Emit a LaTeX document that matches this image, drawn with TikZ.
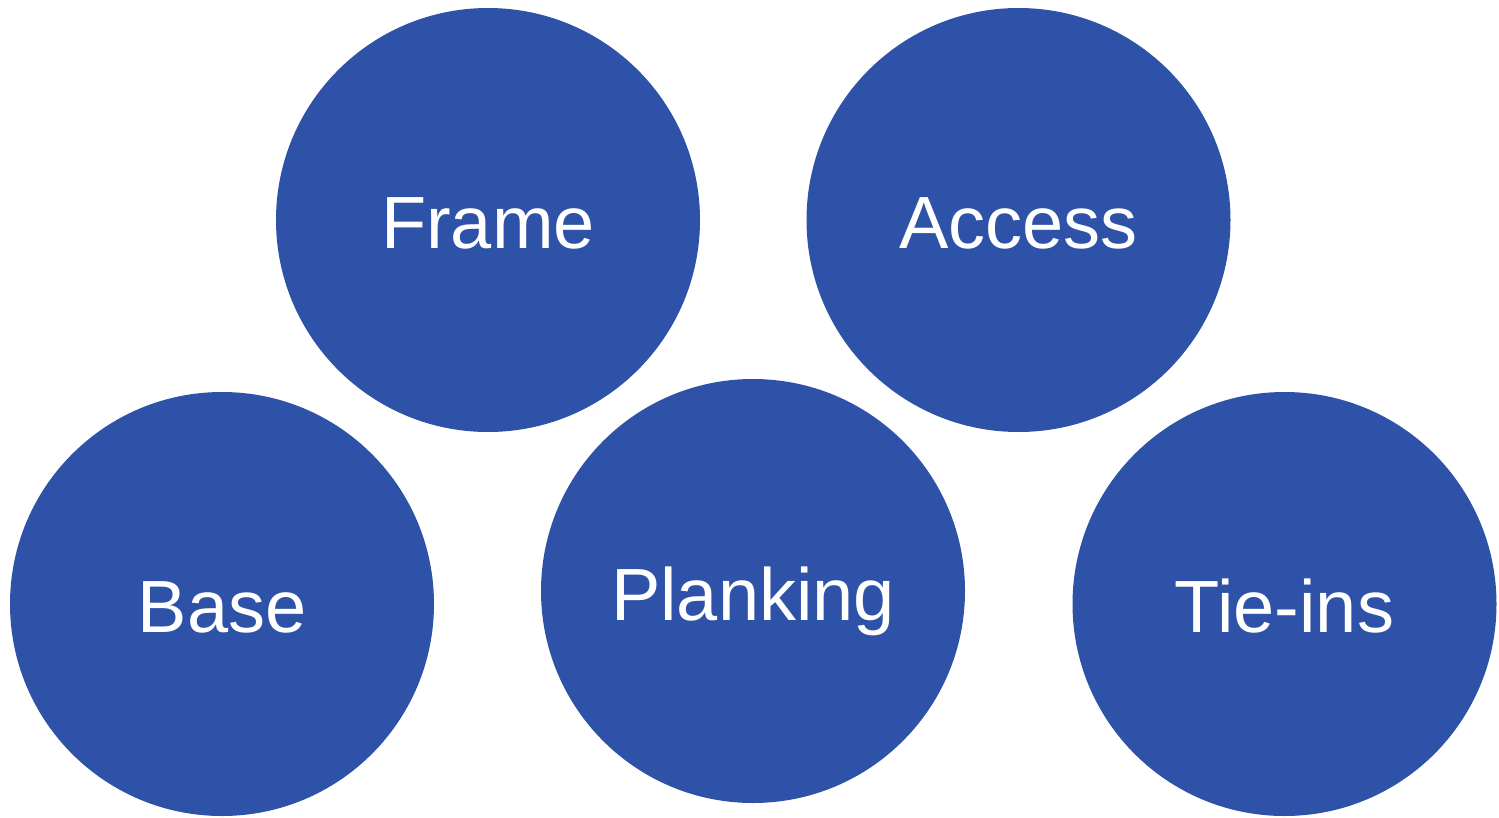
\documentclass[tikz,border=0pt]{standalone}
\usepackage{fontspec}
\setmainfont{Liberation Sans}
\definecolor{cblue}{RGB}{46,82,168}
\begin{document}
\begin{tikzpicture}[x=1pt,y=-1pt,
  bubble/.style={circle,fill=cblue,draw=none,minimum size=424pt,inner sep=0pt},
  lbl/.style={text=white,anchor=base,inner sep=0pt,font=\fontsize{74}{80}\selectfont}]
\useasboundingbox (0,0) rectangle (1499,817);
\node[bubble] (frame) at (488,220) {};
\node[bubble] (access) at (1018.5,220) {};
\node[bubble] (base) at (222,604) {};
\node[bubble] (plank) at (753,591) {};
\node[bubble] (tie) at (1284.5,604) {};
\node[lbl] (tframe) at (488,248) {Frame};
\node[lbl] (taccess) at (1018.5,248) {Access};
\node[lbl] (tbase) at (222,632) {Base};
\node[lbl] (tplank) at (753,620) {Planking};
\node[lbl] (ttie) at (1284.5,632) {Tie-ins};
\end{tikzpicture}
\end{document}
